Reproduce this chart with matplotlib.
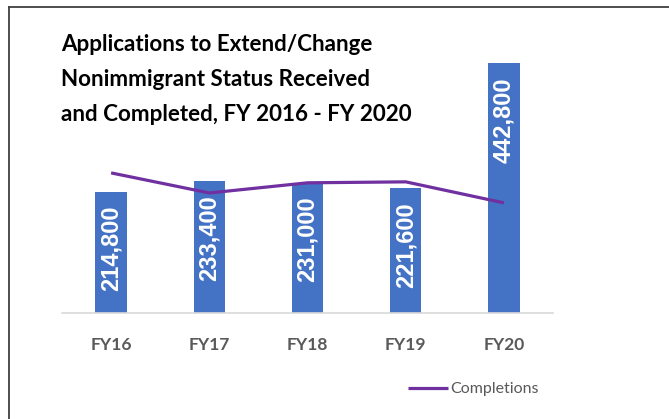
import matplotlib.pyplot as plt
from matplotlib.lines import Line2D

years = ['FY16', 'FY17', 'FY18', 'FY19', 'FY20']
received = [214800, 233400, 231000, 221600, 442800]
completions = [248600, 213000, 231000, 232700, 195400]

BAR = '#4472C4'
LINE = '#7030A0'
GREY = '#595959'

fig = plt.figure(figsize=(6.69, 4.19), dpi=100)
ax = fig.add_axes([0.0927, 0.253, 0.734, 0.616])

x = range(len(years))
ax.bar(x, received, width=0.32, color=BAR, zorder=2)
ax.plot(x, completions, color=LINE, lw=2.3, zorder=3, label='Completions',
        solid_capstyle='butt')

for xi, v in zip(x, received):
    ax.annotate(f'{v:,}', (xi, v), xytext=(0, -10), textcoords='offset points',
                rotation=90, ha='center', va='top', color='white',
                fontsize=17, fontweight='bold', family='Liberation Sans', zorder=4)

ax.set_xlim(-0.5, 4.5)
ax.set_ylim(0, 458000)
ax.set_xticks(list(x))
ax.set_xticklabels(years, fontsize=12.5, fontweight='bold', color=GREY, family='Lato')
ax.tick_params(axis='x', length=0, pad=17)
ax.set_yticks([])
for s in ['top', 'right', 'left']:
    ax.spines[s].set_visible(False)
ax.spines['bottom'].set_color('#D9D9D9')
ax.spines['bottom'].set_linewidth(1.2)

leg = ax.legend(loc='center left', bbox_to_anchor=(0.676, -0.295), frameon=False,
                handlelength=2.5, handletextpad=0.1,
                prop={'family': 'Lato', 'size': 11.5})
for t in leg.get_texts():
    t.set_color(GREY)

fig.text(0.091, 0.918,
         'Applications to Extend/Change\nNonimmigrant Status Received\nand Completed, FY 2016 - FY 2020',
         ha='left', va='top', fontsize=16.1, fontweight='bold', color='black',
         family='Lato', linespacing=1.82)

# frame around the chart
fig.add_artist(Line2D([9 / 669, 9 / 669], [0, 1 - 7 / 419], transform=fig.transFigure,
                      color='#404040', lw=1.3))
fig.add_artist(Line2D([9 / 669, 1], [1 - 7 / 419, 1 - 7 / 419], transform=fig.transFigure,
                      color='#404040', lw=1.3))

fig.savefig('out.png', dpi=100)
